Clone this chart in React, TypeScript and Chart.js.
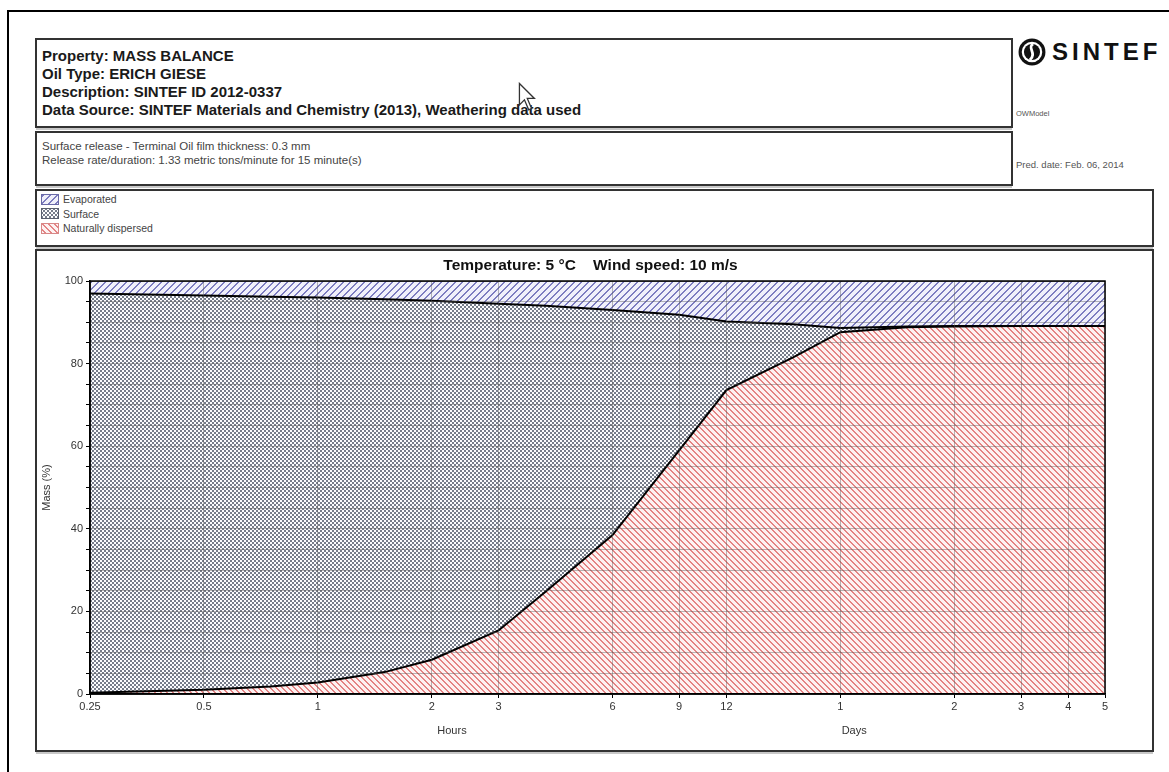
import React, { useEffect, useRef, useMemo } from "react";
import { Chart, registerables } from "chart.js";

Chart.register(...registerables);

// ---- data (time in hours) ----
const timesHours = [0.25, 0.5, 0.75, 1, 1.5, 2, 3, 4, 6, 9, 12, 18, 24, 36, 48, 72, 96, 120];
const dispersed = [0.3, 1.0, 1.8, 2.8, 5.3, 8.3, 15.4, 24.8, 38.5, 59.0, 73.6, 81.5, 87.6, 88.8, 89.0, 89.1, 89.1, 89.1];
const surface = [96.7, 95.5, 94.4, 93.2, 90.3, 86.9, 79.1, 69.2, 54.5, 32.8, 16.6, 8.0, 1.0, 0.2, 0.1, 0, 0, 0];
const evaporated = [3.0, 3.5, 3.8, 4.0, 4.4, 4.8, 5.5, 6.0, 7.0, 8.2, 9.8, 10.5, 11.4, 11.0, 10.9, 10.9, 10.9, 10.9];

const xTickValues = [0.25, 0.5, 1, 2, 3, 6, 9, 12, 24, 48, 72, 96, 120];
const xTickLabels = ["0.25", "0.5", "1", "2", "3", "6", "9", "12", "1", "2", "3", "4", "5"];
const yTickLabelValues = [0, 20, 40, 60, 80, 100];
const axisTitles = ["Hours", "Days"];
const axisTitleAt = [2.26, 26.1];

const headerLines = [
  "Property: MASS BALANCE",
  "Oil Type: ERICH GIESE",
  "Description: SINTEF ID 2012-0337",
  "Data Source: SINTEF Materials and Chemistry (2013), Weathering data used",
];
const releaseLines = [
  "Surface release - Terminal Oil film thickness: 0.3 mm",
  "Release rate/duration: 1.33 metric tons/minute for 15 minute(s)",
];
const legendLabels = ["Evaporated", "Surface", "Naturally dispersed"];
const chartTitle = "Temperature: 5 °C    Wind speed: 10 m/s";

const FONT = '"Liberation Sans", Arial, Helvetica, sans-serif';

type RGBA = [number, number, number, number];

function makeTile(kind: "fwd" | "back" | "cross", size: number, width: number, fg: RGBA, bg: RGBA) {
  const c = document.createElement("canvas");
  c.width = size;
  c.height = size;
  const ctx = c.getContext("2d")!;
  const img = ctx.createImageData(size, size);
  for (let y = 0; y < size; y++) {
    for (let x = 0; x < size; x++) {
      let on = false;
      if (kind === "fwd") on = (x + y) % size < width;
      else if (kind === "back") on = (((x - y) % size) + size) % size < width;
      else on = x === y || x + y === size - 1;
      const col = on ? fg : bg;
      const i = (y * size + x) * 4;
      img.data[i] = col[0];
      img.data[i + 1] = col[1];
      img.data[i + 2] = col[2];
      img.data[i + 3] = col[3];
    }
  }
  ctx.putImageData(img, 0, 0);
  return c;
}

function buildTiles() {
  return {
    evap: makeTile("fwd", 7, 2, [125, 125, 192, 255], [240, 240, 251, 255]),
    surf: makeTile("cross", 4, 1, [118, 124, 138, 255], [252, 252, 254, 255]),
    disp: makeTile("back", 6, 2, [228, 132, 132, 255], [253, 242, 242, 255]),
  };
}

const framePlugin = {
  id: "frameAndTitles",
  afterDraw(chart: any) {
    const { ctx, chartArea } = chart;
    ctx.save();
    ctx.strokeStyle = "#000";
    ctx.lineWidth = 1.5;
    ctx.strokeRect(chartArea.left, chartArea.top, chartArea.right - chartArea.left, chartArea.bottom - chartArea.top);
    // chart title
    ctx.fillStyle = "#111";
    ctx.font = `bold 15.5px ${FONT}`;
    ctx.textAlign = "center";
    ctx.textBaseline = "middle";
    ctx.fillText(chartTitle, (chartArea.left + chartArea.right) / 2 - 7, chartArea.top - 15);
    // hours / days axis titles
    ctx.fillStyle = "#333";
    ctx.font = `11px ${FONT}`;
    const xs = chart.scales.x;
    axisTitles.forEach((t, i) => {
      ctx.fillText(t, xs.getPixelForValue(axisTitleAt[i]), chartArea.bottom + 37);
    });
    ctx.restore();
  },
};

export default function App() {
  const canvasRef = useRef<HTMLCanvasElement>(null);
  const tiles = useMemo(() => buildTiles(), []);
  const swatchUrls = useMemo(
    () => [tiles.evap.toDataURL(), tiles.surf.toDataURL(), tiles.disp.toDataURL()],
    [tiles]
  );

  useEffect(() => {
    const canvas = canvasRef.current!;
    const ctx = canvas.getContext("2d")!;
    const pEvap = ctx.createPattern(tiles.evap, "repeat")!;
    const pSurf = ctx.createPattern(tiles.surf, "repeat")!;
    const pDisp = ctx.createPattern(tiles.disp, "repeat")!;
    const pts = (arr: number[]) => timesHours.map((t, i) => ({ x: t, y: arr[i] }));
    const gridColor = "rgba(85,85,85,0.42)";

    const chart = new Chart(canvas, {
      type: "line",
      data: {
        datasets: [
          { label: legendLabels[2], data: pts(dispersed), fill: "origin", backgroundColor: pDisp as any, borderColor: "#000", borderWidth: 2, pointRadius: 0, tension: 0 },
          { label: legendLabels[1], data: pts(surface), fill: "-1", backgroundColor: pSurf as any, borderColor: "#000", borderWidth: 2, pointRadius: 0, tension: 0 },
          { label: legendLabels[0], data: pts(evaporated), fill: "-1", backgroundColor: pEvap as any, borderColor: "#000", borderWidth: 1, pointRadius: 0, tension: 0 },
        ],
      },
      options: {
        responsive: false,
        animation: false,
        events: [],
        layout: { padding: { left: 0, right: 47, top: 30, bottom: 0 } },
        plugins: {
          legend: { display: false },
          tooltip: { enabled: false },
          title: { display: false },
        },
        scales: {
          x: {
            type: "logarithmic",
            min: 0.25,
            max: 120,
            afterBuildTicks: (scale: any) => {
              scale.ticks = xTickValues.map((v) => ({ value: v }));
            },
            afterFit: (scale: any) => {
              scale.height = 56;
            },
            ticks: {
              autoSkip: false,
              maxRotation: 0,
              padding: 2,
              color: "#333",
              font: { family: FONT, size: 11 },
              callback: (_v: any, i: number) => xTickLabels[i],
            },
            grid: { z: 1, color: gridColor, lineWidth: 1, tickLength: 4, tickColor: "#000", drawTicks: true },
            border: { z: 2, display: true, color: "#000", width: 1.5 },
          },
          y: {
            stacked: true,
            min: 0,
            max: 100,
            afterFit: (scale: any) => {
              scale.width = 53;
            },
            ticks: {
              stepSize: 5,
              padding: 3,
              color: "#333",
              font: { family: FONT, size: 11 },
              callback: (v: any) => (yTickLabelValues.includes(Number(v)) ? String(v) : ""),
            },
            title: {
              display: true,
              text: "Mass (%)",
              color: "#333",
              font: { family: FONT, size: 11 },
              padding: { top: 3, bottom: 0 },
            },
            grid: { z: 1, color: gridColor, lineWidth: 1, tickLength: 4, tickColor: "#000", drawTicks: true },
            border: { z: 2, display: true, color: "#000", width: 1.5 },
          },
        },
      } as any,
      plugins: [framePlugin],
    });
    return () => chart.destroy();
  }, [tiles]);

  const boxStyle = (left: number, top: number, width: number, height: number): React.CSSProperties => ({
    position: "absolute",
    left,
    top,
    width,
    height,
    boxSizing: "border-box",
    border: "2px solid #333",
    boxShadow: "0 3px 0 -1px #c8c8c8",
    background: "#fff",
  });

  return (
    <div
      style={{
        position: "absolute",
        left: 0,
        top: 0,
        width: 1169,
        height: 772,
        overflow: "hidden",
        background: "#fff",
        fontFamily: FONT,
      }}
    >
      {/* outer page frame */}
      <div style={{ position: "absolute", left: 7, top: 10, width: 1170, height: 2, background: "#000" }} />
      <div style={{ position: "absolute", left: 7, top: 10, width: 2, height: 770, background: "#000" }} />

      {/* header box */}
      <div style={{ ...boxStyle(35, 38, 978, 90), padding: "7px 0 0 5px", fontWeight: "bold", fontSize: 15, lineHeight: "18px", color: "#1a1a1a" }}>
        {headerLines.map((l, i) => (
          <div key={i} style={{ whiteSpace: "nowrap" }}>{l}</div>
        ))}
      </div>

      {/* release box */}
      <div style={{ ...boxStyle(35, 131, 978, 55), padding: "6px 0 0 5px", fontSize: 11.5, lineHeight: "14px", color: "#444" }}>
        {releaseLines.map((l, i) => (
          <div key={i} style={{ whiteSpace: "nowrap" }}>{l}</div>
        ))}
      </div>

      {/* right column: logo and notes */}
      <svg width="28" height="28" viewBox="0 0 26 26" style={{ position: "absolute", left: 1018, top: 38 }}>
        <circle cx="13" cy="13" r="12.5" fill="#111" />
        <circle cx="13" cy="13" r="9.5" fill="#fff" />
        <circle cx="13" cy="13" r="7.5" fill="#111" />
        <path d="M14 5.5 C8 9, 18 14, 11 20.5" stroke="#fff" strokeWidth="2.6" fill="none" />
      </svg>
      <div style={{ position: "absolute", left: 1052, top: 40, fontSize: 24, lineHeight: "24px", fontWeight: 900, letterSpacing: 4, color: "#111" }}>
        SINTEF
      </div>
      <div style={{ position: "absolute", left: 1016, top: 109, fontSize: 7.5, lineHeight: "10px", color: "#555" }}>OWModel</div>
      <div style={{ position: "absolute", left: 1016, top: 160, fontSize: 9.5, lineHeight: "10px", color: "#555", whiteSpace: "nowrap" }}>
        Pred. date: Feb. 06, 2014
      </div>

      {/* legend box */}
      <div style={{ ...boxStyle(35, 189, 1119, 58), padding: "1px 0 0 4px", fontSize: 10.5, lineHeight: "14.5px", color: "#444" }}>
        {legendLabels.map((l, i) => (
          <div key={i} style={{ display: "flex", alignItems: "center", height: 14.5 }}>
            <div
              style={{
                width: 18,
                height: 11,
                boxSizing: "border-box",
                border: `1px solid ${["#6a6aa8", "#5a6070", "#d88888"][i]}`,
                backgroundImage: `url(${swatchUrls[i]})`,
                marginRight: 4,
              }}
            />
            <span style={{ whiteSpace: "nowrap" }}>{l}</span>
          </div>
        ))}
      </div>

      {/* chart box */}
      <div style={boxStyle(35, 249, 1119, 503)} />
      <canvas ref={canvasRef} width={1115} height={499} style={{ position: "absolute", left: 37, top: 251, width: 1115, height: 499 }} />

      {/* mouse pointer seen in the screenshot */}
      <svg width="22" height="30" viewBox="0 0 14 21" style={{ position: "absolute", left: 517, top: 82 }}>
        <polygon points="1,1 1,16 4.5,12.5 7.5,19.5 9.5,18.5 6.5,11.5 11.5,11.5" fill="#fff" stroke="#333" strokeWidth="0.9" />
      </svg>
    </div>
  );
}
